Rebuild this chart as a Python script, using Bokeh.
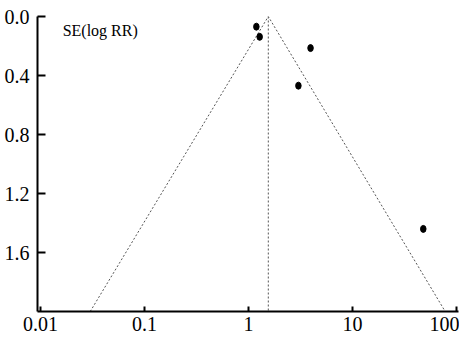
from bokeh.plotting import figure
from bokeh.models import Range1d, FixedTicker, CustomJSTickFormatter, Label
from bokeh.embed import file_html
from bokeh.resources import INLINE

# Study estimates (relative risk) and their standard errors of log RR
rr = [1.19, 1.28, 3.95, 3.02, 48.0]
se = [0.069, 0.138, 0.214, 0.469, 1.44]

# Pooled estimate and funnel limits
pooled = 1.55
se_max = 2.0
funnel_x = [0.030, 1.55, 78.0]
funnel_y = [2.0, 0.0, 2.0]

x_ticks = [0.01, 0.1, 1, 10, 100]
y_ticks = [0.0, 0.4, 0.8, 1.2, 1.6]

p = figure(width=459, height=333, x_axis_type="log",
           x_range=Range1d(10 ** -2.03, 10 ** 2.02),
           y_range=Range1d(se_max, 0.0),
           output_backend="svg", toolbar_location=None,
           min_border_left=37, min_border_top=16, min_border_right=1,
           min_border_bottom=0)
p.outline_line_color = None
p.xgrid.visible = False
p.ygrid.visible = False
p.background_fill_color = "white"
p.border_fill_color = "white"

p.line(funnel_x, funnel_y, line_color="#555555", line_width=1, line_dash="2 2")
p.line([pooled, pooled], [0.0, se_max], line_color="#555555", line_width=1, line_dash="2 2")

p.ellipse(x=rr, y=se, width=5.5, height=7, width_units="screen", height_units="screen",
          fill_color="black", line_color="black")

font = "Liberation Serif"
for ax in (p.xaxis[0], p.yaxis[0]):
    ax.axis_line_width = 2
    ax.axis_line_color = "black"
    ax.major_tick_line_width = 2
    ax.major_tick_line_color = "black"
    ax.minor_tick_line_color = None
    ax.major_tick_out = 0
    ax.major_label_text_font = font
    ax.major_label_text_font_size = "20px"
    ax.major_label_text_font_style = "normal"
    ax.major_label_text_color = "black"

p.xaxis.ticker = FixedTicker(ticks=x_ticks)
p.xaxis.formatter = CustomJSTickFormatter(code="return tick.toString();")
p.xaxis.major_tick_in = 5
p.xaxis.major_label_standoff = 5

p.yaxis.ticker = FixedTicker(ticks=y_ticks)
p.yaxis.formatter = CustomJSTickFormatter(code="return tick.toFixed(1);")
p.yaxis.major_tick_in = 8
p.yaxis.major_label_standoff = 8

p.add_layout(Label(x=0.0163, y=0.097, text="SE(log RR)", text_font=font,
                   text_font_size="16px", text_align="left", text_baseline="middle",
                   text_color="black"))

open("out.html", "w").write(file_html(p, INLINE))
